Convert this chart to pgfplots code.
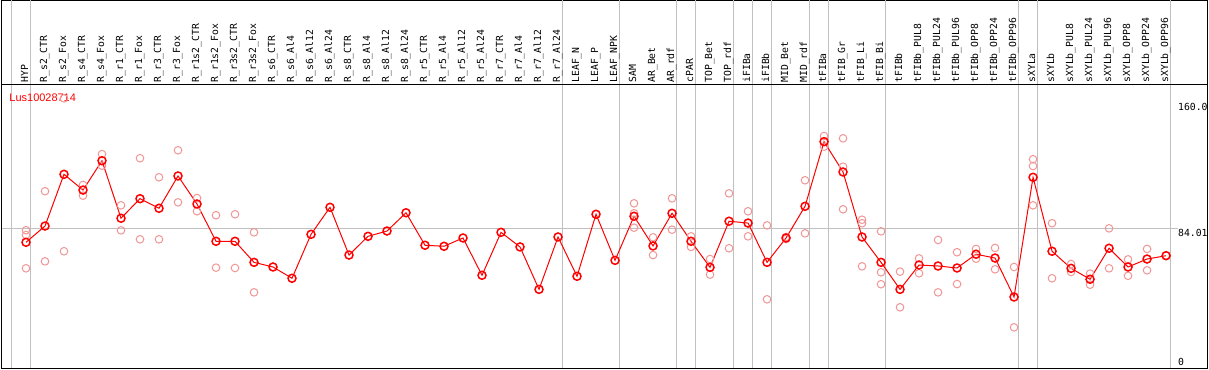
\documentclass[border=0pt]{standalone}
\usepackage{pgfplots}
\pgfplotsset{compat=1.18}
\usepackage{fontspec}
\newfontfamily\labfont{DejaVu Sans Mono}
\newfontfamily\titfont{Liberation Sans}
\definecolor{pale}{RGB}{240,150,150}
\definecolor{gridg}{RGB}{192,192,192}
\newcommand\lab[2]{\node[rotate=90, anchor=mid west, inner sep=0pt, font=\labfont\fontsize{9.8}{10}\selectfont] at (axis cs:#1,171.6) {#2};}
\begin{document}
\begin{tikzpicture}
\begin{axis}[
  scale only axis,
  width=1206bp, height=367.5bp,
  xmin=-1.2895, xmax=62.184,
  ymin=-0.42, ymax=221.23,
  xtick=\empty, ytick=\empty,
  axis line style={black, line width=1bp},
  extra x ticks={-0.76,0.24,28.24,31.24,34.24,35.24,37.24,38.24,39.24,41.24,42.24,45.24,52.24,53.24,60.24},
  extra x tick labels={},
  extra x tick style={grid=major, major tick length=0pt},
  grid style={gridg, line width=1bp},
  clip=false,
]
\draw[gridg, line width=1bp] (axis cs:-1.2895,84.01) -- (axis cs:60.63,84.01);
\draw[black, line width=1bp] (axis cs:-1.2895,170.3) -- (axis cs:62.184,170.3);

\node[anchor=west, inner sep=0pt, text=red, font=\titfont\fontsize{11}{12}\selectfont] at (axis cs:-0.879,162.8) {Lus10028714};

\addplot[only marks, mark=o, mark size=3.8bp, pale, mark options={line width=1bp}] table {
x y
0 82.7
0 79.8
0 59.7
1 106.2
1 63.9
2 162.2
2 70.0
3 110.0
3 103.5
4 128.6
4 121.6
5 97.7
5 82.6
6 126.1
6 77.2
7 114.6
7 77.2
8 130.9
8 99.5
9 102.1
9 94.1
10 91.7
10 60.1
11 92.3
11 59.9
12 81.4
12 45.2
32 98.9
32 92.9
32 84.2
33 78.4
33 67.7
34 101.9
34 83.0
35 79.0
35 72.6
36 65.3
36 55.9
37 104.9
37 71.8
38 94.1
38 79.0
39 85.6
39 41.0
40 78.6
40 77.4
41 112.8
41 80.8
42 139.5
42 133.1
43 138.1
43 121.0
43 95.3
44 89.0
44 86.9
44 60.9
45 82.0
45 57.3
45 50.1
46 57.7
46 36.2
47 65.7
47 56.7
48 76.8
48 45.2
49 69.4
49 50.2
50 71.4
50 65.5
51 72.0
51 59.1
52 60.5
52 24.1
53 125.5
53 121.4
53 97.7
54 86.9
54 53.7
55 62.3
55 57.5
56 56.5
56 49.8
57 83.8
57 59.7
58 65.1
58 55.2
59 71.4
59 58.5
60 67.5
};

\addplot[red, line width=1bp, mark=o, mark size=4bp, mark options={line width=1.5bp}] table {
x y
0 75.4
1 85.2
2 116.4
3 106.9
4 124.6
5 89.9
6 101.7
7 95.9
8 115.4
9 98.5
10 76.0
11 76.0
12 63.3
13 60.5
14 53.7
15 80.2
16 96.5
17 67.7
18 79.0
19 82.2
20 93.2
21 73.6
22 73.0
23 78.0
24 55.5
25 81.4
26 72.6
27 47.0
28 78.6
29 54.9
30 92.3
31 64.5
32 91.1
33 73.2
34 92.9
35 76.0
36 60.3
37 88.1
38 87.0
39 63.3
40 78.0
41 97.1
42 136.1
43 117.8
44 78.6
45 63.3
46 47.0
47 61.7
48 61.1
49 59.9
50 68.2
51 65.9
52 42.4
53 114.6
54 70.0
55 59.7
56 53.1
57 71.8
58 60.5
59 65.3
60 67.3
};

\node[anchor=west, inner sep=0pt, font=\labfont\fontsize{9.8}{10}\selectfont] at (axis cs:60.63,157.2) {160.0};
\node[anchor=west, inner sep=0pt, font=\labfont\fontsize{9.8}{10}\selectfont] at (axis cs:60.63,81.2) {84.01};
\node[anchor=west, inner sep=0pt, font=\labfont\fontsize{9.8}{10}\selectfont] at (axis cs:60.63,3.4) {0};

\lab{0}{HYP}
\lab{1}{R\_s2\_CTR}
\lab{2}{R\_s2\_Fox}
\lab{3}{R\_s4\_CTR}
\lab{4}{R\_s4\_Fox}
\lab{5}{R\_r1\_CTR}
\lab{6}{R\_r1\_Fox}
\lab{7}{R\_r3\_CTR}
\lab{8}{R\_r3\_Fox}
\lab{9}{R\_r1s2\_CTR}
\lab{10}{R\_r1s2\_Fox}
\lab{11}{R\_r3s2\_CTR}
\lab{12}{R\_r3s2\_Fox}
\lab{13}{R\_s6\_CTR}
\lab{14}{R\_s6\_Al4}
\lab{15}{R\_s6\_Al12}
\lab{16}{R\_s6\_Al24}
\lab{17}{R\_s8\_CTR}
\lab{18}{R\_s8\_Al4}
\lab{19}{R\_s8\_Al12}
\lab{20}{R\_s8\_Al24}
\lab{21}{R\_r5\_CTR}
\lab{22}{R\_r5\_Al4}
\lab{23}{R\_r5\_Al12}
\lab{24}{R\_r5\_Al24}
\lab{25}{R\_r7\_CTR}
\lab{26}{R\_r7\_Al4}
\lab{27}{R\_r7\_Al12}
\lab{28}{R\_r7\_Al24}
\lab{29}{LEAF\_N}
\lab{30}{LEAF\_P}
\lab{31}{LEAF\_NPK}
\lab{32}{SAM}
\lab{33}{AR\_Bet}
\lab{34}{AR\_rdf}
\lab{35}{cPAR}
\lab{36}{TOP\_Bet}
\lab{37}{TOP\_rdf}
\lab{38}{iFIBa}
\lab{39}{iFIBb}
\lab{40}{MID\_Bet}
\lab{41}{MID\_rdf}
\lab{42}{tFIBa}
\lab{43}{tFIB\_Gr}
\lab{44}{tFIB\_Li}
\lab{45}{tFIB\_Bi}
\lab{46}{tFIBb}
\lab{47}{tFIBb\_PUL8}
\lab{48}{tFIBb\_PUL24}
\lab{49}{tFIBb\_PUL96}
\lab{50}{tFIBb\_OPP8}
\lab{51}{tFIBb\_OPP24}
\lab{52}{tFIBb\_OPP96}
\lab{53}{sXYLa}
\lab{54}{sXYLb}
\lab{55}{sXYLb\_PUL8}
\lab{56}{sXYLb\_PUL24}
\lab{57}{sXYLb\_PUL96}
\lab{58}{sXYLb\_OPP8}
\lab{59}{sXYLb\_OPP24}
\lab{60}{sXYLb\_OPP96}
\end{axis}
\pgfresetboundingbox
\path (-1.5bp,-2bp) rectangle (1207.5bp,368bp);
\end{tikzpicture}
\end{document}
